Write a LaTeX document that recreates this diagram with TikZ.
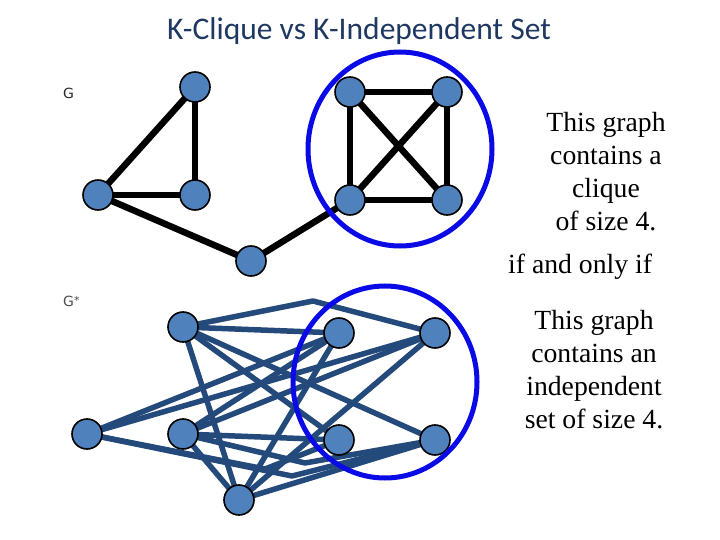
\documentclass[tikz,border=0pt]{standalone}
\usepackage{fontspec}
\setmainfont{Liberation Serif}
\newfontfamily\titlefont{Carlito}
\newfontfamily\labfont{DejaVu Sans}
\usetikzlibrary{backgrounds}
\definecolor{titleblue}{RGB}{31,56,98}
\definecolor{nodefill}{RGB}{79,129,189}
\definecolor{edgeblue}{RGB}{36,74,124}
\definecolor{ringblue}{RGB}{10,10,230}
\begin{document}
\begin{tikzpicture}[x=1pt,y=-1pt,
  vtx/.style={circle,draw=black,line width=1.6pt,fill=nodefill,minimum size=30pt,inner sep=0pt},
  gedge/.style={draw=black,line width=6.5pt},
  cedge/.style={draw=edgeblue,line width=5.5pt,line join=round},
  ring/.style={draw=ringblue,line width=5pt},
  sidetext/.style={font=\fontsize{27.7}{33}\selectfont,align=center,inner sep=0pt}]
\useasboundingbox (0,0) rectangle (720,540);
% title
\node (title) [text=titleblue,font=\titlefont\fontsize{31.5}{34}\selectfont] at (359,31) {K-Clique vs K-Independent Set};
% labels
\node (lg) [font=\labfont\fontsize{14}{16}\selectfont,text=black!85,anchor=west,inner sep=0pt] at (63,93) {G};
\node (lgs) [font=\labfont\fontsize{14}{16}\selectfont,text=black!70,anchor=west,inner sep=0pt] at (63,301) {G\raisebox{0.25ex}{\fontsize{11}{11}\selectfont*}};
% top graph
\node[vtx] (A) at (195,87) {};
\node[vtx] (B) at (98,195) {};
\node[vtx] (C) at (195,195) {};
\node[vtx] (D) at (251,261) {};
\node[vtx] (E) at (350,92) {};
\node[vtx] (F) at (447,92) {};
\node[vtx] (H) at (350,200) {};
\node[vtx] (I) at (447,200) {};
\begin{scope}[on background layer]
\draw[gedge] (A.center) -- (B.center);
\draw[gedge] (A.center) -- (C.center);
\draw[gedge] (B.center) -- (C.center);
\draw[gedge] (B.center) -- (D.center);
\draw[gedge] (D.center) -- (H.center);
\draw[gedge] (E.center) -- (F.center);
\draw[gedge] (E.center) -- (H.center);
\draw[gedge] (E.center) -- (I.center);
\draw[gedge] (F.center) -- (H.center);
\draw[gedge] (F.center) -- (I.center);
\draw[gedge] (H.center) -- (I.center);
\end{scope}
\draw[ring] (400,149) ellipse [x radius=92, y radius=97];
% bottom graph
\node[vtx] (a) at (183,327) {};
\node[vtx] (b) at (87,434) {};
\node[vtx] (c) at (183,434) {};
\node[vtx] (d) at (239,500) {};
\node[vtx] (e) at (339,333) {};
\node[vtx] (f) at (435,333) {};
\node[vtx] (h) at (339,440) {};
\node[vtx] (i) at (435,440) {};
\coordinate (k1) at (313,301);
\coordinate (k2) at (265,469);
\coordinate (k3) at (292,476);
\coordinate (k4) at (305,463);
\begin{scope}[on background layer]
\draw[cedge] (a.center) -- (k1) -- (f.center);
\draw[cedge] (a.center) -- (e.center);
\draw[cedge] (a.center) -- (h.center);
\draw[cedge] (a.center) -- (i.center);
\draw[cedge] (a.center) -- (d.center);
\draw[cedge] (b.center) -- (e.center);
\draw[cedge] (b.center) -- (f.center);
\draw[cedge] (b.center) -- (k2) -- (h.center);
\draw[cedge] (b.center) -- (k3) -- (i.center);
\draw[cedge] (c.center) -- (d.center);
\draw[cedge] (c.center) -- (e.center);
\draw[cedge] (c.center) -- (f.center);
\draw[cedge] (c.center) -- (h.center);
\draw[cedge] (c.center) -- (k4) -- (i.center);
\draw[cedge] (d.center) -- (e.center);
\draw[cedge] (d.center) -- (f.center);
\draw[cedge] (d.center) -- (i.center);
\end{scope}
\draw[ring] (385,382) ellipse [x radius=92, y radius=96];
% side texts
\node (t1) [sidetext] at (606,172) {This graph\\contains a\\clique\\of size 4.};
\node (t2) [sidetext,anchor=west] at (508,267) {if and only if};
\node (t3) [sidetext] at (594,370) {This graph\\contains an\\independent\\set of size 4.};
\end{tikzpicture}
\end{document}
